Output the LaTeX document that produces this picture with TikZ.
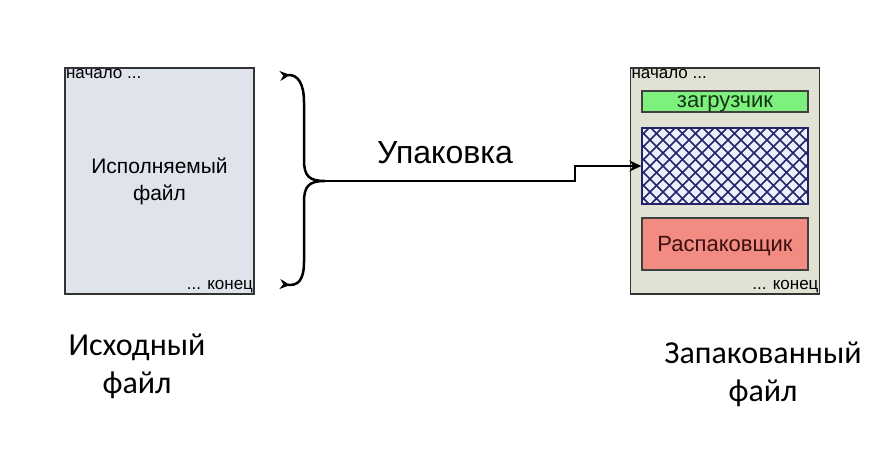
\documentclass[tikz,border=0pt]{standalone}
\usepackage{fontspec}
\setmainfont{Liberation Sans}
\newfontfamily\labelfont{Carlito}
\usetikzlibrary{positioning,arrows.meta}
\definecolor{srcgray}{RGB}{222,227,236}
\definecolor{packgray}{RGB}{226,226,212}
\definecolor{loadgreen}{RGB}{125,240,125}
\definecolor{unpackred}{RGB}{242,140,130}
\definecolor{hatchblue}{RGB}{35,35,105}
\definecolor{hatchfill}{RGB}{236,240,252}
\tikzset{
	filebox/.style = {draw=black!80, line width=1.3pt, minimum width=189pt,
	  minimum height=226pt, inner sep=0pt},
	part/.style = {draw=black!75, line width=1.2pt, minimum width=166pt, inner sep=0pt,
	  text depth=0pt},
	corner/.style = {font=\fontsize{17}{17}\selectfont, inner sep=1.5pt},
	caption/.style = {font=\labelfont\fontsize{32}{38}\selectfont, align=center},
	arr/.style = {line width=2.5pt, -{Stealth[length=12pt,width=11pt]}}
}

\begin{document}
\begin{tikzpicture}[x=1pt, y=-1pt]
\useasboundingbox (0,0) rectangle (894,456);
\fill[white] (0,0) rectangle (894,456);

% NODES
% source file
\node (src) [filebox, fill=srcgray] at (159.5,181) {};
\node (srctext) [font=\fontsize{21}{27}\selectfont, align=center] at (src) {Исполняемый\\файл};
\node (srcbeg) [corner, anchor=north west] at (src.north west) {начало ...};
\node (srcend) [corner, anchor=south east] at (src.south east) {... конец};
\node (srccap) [caption] at (137,366) {Исходный\\файл};
% packed file
\node (pack) [filebox, fill=packgray] at (725,181) {};
\node (packbeg) [corner, anchor=north west] at (pack.north west) {начало ...};
\node (packend) [corner, anchor=south east] at (pack.south east) {... конец};
\node (load) [part, fill=loadgreen, minimum height=21pt, font=\fontsize{22}{22}\selectfont,
  text={rgb,255:red,20;green,50;blue,20}] at (725,101.5) {загрузчик};
\node (hatch) [part, fill=hatchfill, minimum height=76pt] at (725,166) {};
\begin{scope}
\clip (hatch.south west) rectangle (hatch.north east);
\foreach \x in {560,573,...,812}
  {\draw [hatchblue, line width=1.5pt] (\x,128) -- ++(80,80);
   \draw [hatchblue, line width=1.5pt] (\x,204) -- ++(80,-80);}
\end{scope}
\node (hatchframe) [part, draw=hatchblue, minimum height=76pt] at (hatch) {};
\node (unpack) [part, fill=unpackred, minimum height=52pt, font=\fontsize{22}{22}\selectfont,
  text={rgb,255:red,60;green,15;blue,15}] at (725,244) {Распаковщик};
\node (packcap) [caption] at (763,374) {Запакованный\\файл};
% brace and label
\coordinate (brtop) at (280,76);
\coordinate (brbot) at (280,284);
\coordinate (brmid) at (325,181);
\node (packlabel) [font=\fontsize{32}{32}\selectfont] at (445,153) {Упаковка};

%CONNECTIONS
\draw [line width=2.5pt, {Stealth[reversed,length=10pt,width=10pt]}-{Stealth[reversed,length=10pt,width=10pt]}]
  (brtop) .. controls (298,74) and (304,84) .. (304,102) -- (304,160)
  .. controls (304,176) and (309,181) .. (brmid)
  .. controls (309,181) and (304,186) .. (304,202) -- (304,262)
  .. controls (304,280) and (298,286) .. (brbot);
\draw [arr] (brmid) -- ++(250,0) |- (hatch.west);

\end{tikzpicture}
\end{document}
